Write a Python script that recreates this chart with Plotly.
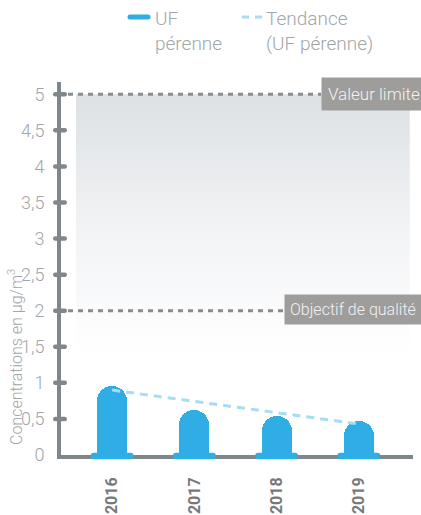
import plotly.graph_objects as go

# Annual mean concentrations (µg/m³), permanent UF station
years = ["2016", "2017", "2018", "2019"]
uf_values = [0.95, 0.63, 0.54, 0.47]

# Trend line end points
trend_years = ["2016", "2019"]
trend_values = [0.90, 0.43]

# Reference thresholds
limit_value = 5
quality_goal = 2
limit_label = "Valeur limite"
goal_label = "Objectif de qualité"

y_ticks = [0, 0.5, 1, 1.5, 2, 2.5, 3, 3.5, 4, 4.5, 5]
y_title = "Concentrations en µg/m<sup>3</sup>"
legend_main = "UF<br>pérenne"
legend_trend = "Tendance<br>(UF pérenne)"

W, H = 421, 515
ML, MR, MT, MB = 61, 8, 82, 60
PW, PH = W - ML - MR, H - MT - MB

BLUE = "#2eaee4"
LIGHT_BLUE = "#a7dcf5"
AXIS = "#80878b"
TEXT = "#a2a6a9"
FONT = "Roboto"

Y_MAX = 5.17
X_RANGE = [-0.622, 3.659]


def px_x(p):
    return (p - ML) / PW


def px_y(p):
    return (H - MB - p) / PH


def pill(w, h, xref, yref, xanchor, yanchor, color):
    r = h / 2
    a, b = w / 2, h / 2
    path = (f"M{-a + r},{-b} L{a - r},{-b} Q{a},{-b} {a},0 Q{a},{b} {a - r},{b} "
            f"L{-a + r},{b} Q{-a},{b} {-a},0 Q{-a},{-b} {-a + r},{-b} Z")
    return dict(type="path", path=path, xref=xref, yref=yref,
                xsizemode="pixel", ysizemode="pixel",
                xanchor=xanchor, yanchor=yanchor,
                fillcolor=color, line=dict(width=0), layer="above")


fig = go.Figure()

# Shaded band between the thresholds, fading towards the bottom
bx0, bx1 = -0.44, 3.62
fig.add_trace(go.Scatter(
    x=[bx0, bx1, bx1, bx0, bx0], y=[1.4, 1.4, limit_value, limit_value, 1.4],
    mode="lines", line=dict(width=0), fill="toself",
    fillgradient=dict(type="vertical",
                      colorscale=[[0, "rgba(255,255,255,1)"], [0.45, "#f3f4f6"], [1, "#dde1e4"]]),
    hoverinfo="skip", showlegend=False,
))

x_idx = [years.index(y) for y in years]

fig.add_trace(go.Bar(
    x=x_idx, y=uf_values, width=0.366,
    marker=dict(color=BLUE, cornerradius=15, line=dict(width=0)),
    showlegend=False,
))

fig.add_trace(go.Scatter(
    x=[years.index(y) for y in trend_years], y=trend_values,
    mode="lines", line=dict(color=LIGHT_BLUE, width=3, dash="8px,6px"),
    showlegend=False,
))

shapes = []
# Threshold lines
shapes.append(dict(type="line", xref="paper", yref="y", x0=px_x(68), x1=px_x(321),
                   y0=limit_value, y1=limit_value,
                   line=dict(color="#868c90", width=3, dash="5px,5px"), layer="above"))
shapes.append(dict(type="line", xref="paper", yref="y", x0=px_x(68), x1=px_x(284),
                   y0=quality_goal, y1=quality_goal,
                   line=dict(color="#868c90", width=3, dash="5px,5px"), layer="above"))

# Tick stubs across the vertical axis
for v in y_ticks[1:]:
    shapes.append(pill(14, 4.5, "paper", "y", px_x(60), v, AXIS))

# Bar feet
for i in x_idx:
    shapes.append(pill(43, 6.5, "x", "paper", i, px_y(456), BLUE))

# Legend samples
shapes.append(pill(23, 5, "paper", "paper", px_x(139), px_y(17), BLUE))
shapes.append(dict(type="line", xref="paper", yref="paper", x0=px_x(242), x1=px_x(262),
                   y0=px_y(17), y1=px_y(17),
                   line=dict(color=LIGHT_BLUE, width=3, dash="7px,6px")))

annotations = [
    dict(text=limit_label, xref="paper", yref="y", x=px_x(321), y=limit_value,
         xanchor="left", yanchor="middle", showarrow=False, align="left",
         bgcolor="#9e9d9b", borderpad=6,
         font=dict(family=FONT, size=17, color="#f2f2f2", weight=300)),
    dict(text=goal_label, xref="paper", yref="y", x=px_x(284), y=quality_goal + 0.02,
         xanchor="left", yanchor="middle", showarrow=False, align="left",
         bgcolor="#9e9d9b", borderpad=5,
         font=dict(family=FONT, size=16, color="#f2f2f2", weight=300)),
    dict(text=y_title, xref="paper", yref="paper", x=px_x(15), y=px_y(357),
         xanchor="center", yanchor="middle", textangle=-90, showarrow=False,
         font=dict(family=FONT, size=16, color=TEXT, weight=300)),
    dict(text=legend_main, xref="paper", yref="paper", x=px_x(153), y=px_y(5),
         xanchor="left", yanchor="top", showarrow=False, align="left",
         font=dict(family=FONT, size=19, color=TEXT, weight=300)),
    dict(text=legend_trend, xref="paper", yref="paper", x=px_x(264), y=px_y(5),
         xanchor="left", yanchor="top", showarrow=False, align="left",
         font=dict(family=FONT, size=19, color=TEXT, weight=300)),
]

fig.update_layout(
    width=W, height=H,
    margin=dict(l=ML, r=MR, t=MT, b=MB, pad=0, autoexpand=False),
    paper_bgcolor="white", plot_bgcolor="white",
    separators=", ",
    shapes=shapes, annotations=annotations,
    bargap=0,
    xaxis=dict(
        range=X_RANGE, tickmode="array", tickvals=x_idx, ticktext=years,
        tickangle=-90, ticks="outside", ticklen=0, ticklabelstandoff=12,
        showgrid=False, zeroline=False, automargin=False,
        showline=True, linecolor=AXIS, linewidth=4,
        tickfont=dict(family=FONT, size=16, color="#76797c", weight="bold"),
        fixedrange=True,
    ),
    yaxis=dict(
        range=[0, Y_MAX], tickmode="array", tickvals=y_ticks,
        ticktext=[f"{v:g}".replace(".", ",") for v in y_ticks],
        ticks="outside", ticklen=0, ticklabelstandoff=9,
        showgrid=False, zeroline=False, automargin=False,
        showline=True, linecolor=AXIS, linewidth=4,
        tickfont=dict(family=FONT, size=18, color=TEXT, weight=300),
        fixedrange=True,
    ),
    showlegend=False,
)

fig.write_html("out.html", config={"displayModeBar": False})
